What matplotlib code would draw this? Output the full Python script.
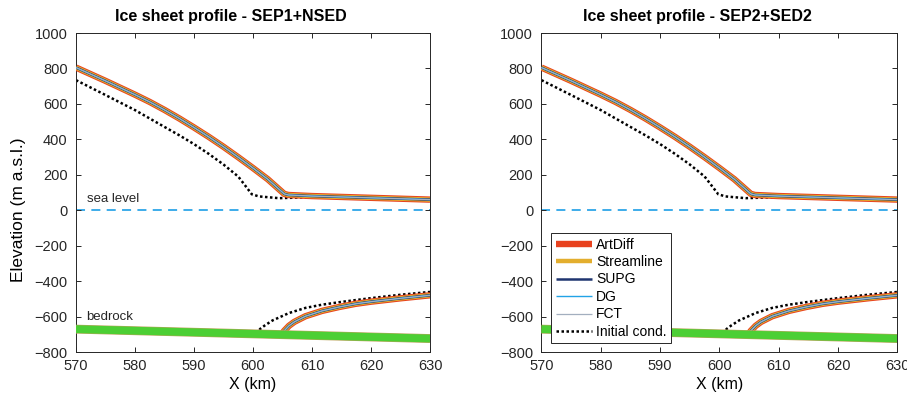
import matplotlib
matplotlib.use("Agg")
import matplotlib.pyplot as plt

plt.rcParams['font.family'] = ['Liberation Sans', 'DejaVu Sans']

# ice surface (model runs), km / m a.s.l.
surf_x = [570, 575, 580, 582.5, 585, 587.5, 590, 592.5, 595, 597.5, 600, 602.5,
          605.3, 606, 610, 620, 630]
surf_z = [805, 730, 652, 611, 566, 518, 467, 414, 358, 299, 238, 175,
          92, 86, 80, 70, 60]

# ice base of the floating part (model runs)
base_x = [604.8, 605.3, 606.1, 607, 608.9, 611.7, 614.6, 617.4, 620, 625, 630]
base_z = [-702, -680, -652, -630, -598, -568, -546, -528, -516, -497, -480]

# initial condition
init_sx = [570, 575, 580, 585, 587.5, 590, 592.5, 595, 597.5, 599, 599.8, 601,
           604.4, 610, 620, 630]
init_sz = [734, 650, 565, 470, 423, 373, 318, 258, 190, 125, 90, 78,
           68, 74, 66, 58]
init_bx = [600.6, 601.2, 602, 603.3, 606.1, 608.9, 611.7, 614.6, 617.4, 620, 625, 630]
init_bz = [-698, -670, -650, -622, -580, -551, -533, -519, -507, -496, -477, -461]

bed_x = [570, 630]
bed_z = [-671, -724]

runs = ["ArtDiff", "Streamline", "SUPG", "DG", "FCT"]
run_colors = ["#E8421E", "#E3AE2E", "#1F3570", "#22A3E6", "#A3AFBF"]
run_widths = [4.6, 3.2, 1.8, 1.0, 0.9]

titles = ["Ice sheet profile - SEP1+NSED", "Ice sheet profile - SEP2+SED2"]

fig = plt.figure(figsize=(9.07, 3.93), dpi=100)
axes = [fig.add_axes([0.0838, 0.1043, 0.3903, 0.8117]),
        fig.add_axes([0.5970, 0.1043, 0.3925, 0.8117])]

for n, ax in enumerate(axes):
    ax.axhline(0, color="#2EA6E8", lw=1.3, dashes=(5, 3.5), zorder=1)
    handles = []
    for name, c, w in zip(runs, run_colors, run_widths):
        h, = ax.plot(surf_x, surf_z, color=c, lw=w, label=name, zorder=3,
                     solid_capstyle="butt", solid_joinstyle="round")
        ax.plot(base_x, base_z, color=c, lw=w, zorder=3, solid_capstyle="butt",
                solid_joinstyle="round")
        handles.append(h)
    h, = ax.plot(init_sx, init_sz, color="black", lw=1.8, ls=(0, (1, 1)),
                 label="Initial cond.", zorder=2)
    ax.plot(init_bx, init_bz, color="black", lw=1.8, ls=(0, (1, 1)), zorder=2)
    handles.append(h)
    # bedrock
    ax.plot(bed_x, bed_z, color="#B9A45A", lw=6.4, zorder=4, solid_capstyle="butt")
    ax.plot(bed_x, bed_z, color="#4CCF34", lw=5.6, zorder=5, solid_capstyle="butt")

    ax.set_xlim(570, 630)
    ax.set_ylim(-800, 1000)
    ax.set_xticks(range(570, 631, 10))
    ax.set_yticks(range(-800, 1001, 200))
    ax.tick_params(direction="in", top=True, right=True, length=3.5,
                   width=0.7, labelsize=10.5, colors="#262626")
    ax.tick_params(axis="x", pad=5)
    ax.tick_params(axis="y", pad=6)
    for s in ax.spines.values():
        s.set_color("#262626")
        s.set_linewidth(0.7)
    ax.set_title(titles[n], fontsize=11.5, fontweight="bold", pad=9, x=0.438)
    ax.set_xlabel("X (km)", fontsize=11.5, labelpad=3)

    if n == 0:
        ax.set_ylabel("Elevation (m a.s.l.)", fontsize=12.5)
        ax.yaxis.set_label_coords(-0.142, 0.445)
        ax.text(571.8, 62, "sea level", fontsize=9.5, va="center", color="#262626")
        ax.text(571.8, -605, "bedrock", fontsize=9.5, va="center", color="#262626")
    else:
        leg = ax.legend(handles=handles, loc="lower left",
                        bbox_to_anchor=(0.028, 0.028), fontsize=10,
                        handlelength=2.6, handletextpad=0.3, labelspacing=0.25,
                        borderpad=0.3, borderaxespad=0, fancybox=False,
                        framealpha=1, edgecolor="#262626")
        leg.get_frame().set_linewidth(0.7)
        leg.set_zorder(10)

fig.savefig("out.png", dpi=100)
